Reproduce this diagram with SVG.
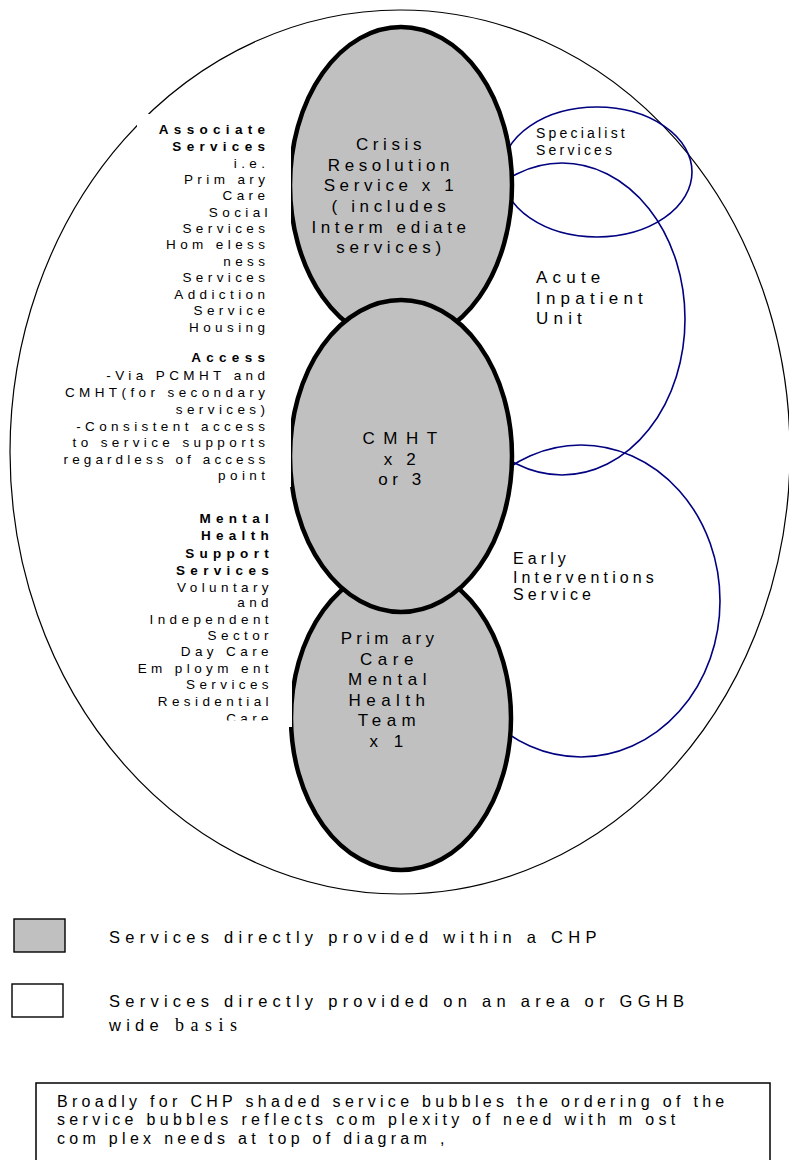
<svg xmlns="http://www.w3.org/2000/svg" width="789" height="1160" viewBox="0 0 789 1160">
<defs>
<style>
.t{font-family:"Liberation Sans",Arial,sans-serif;fill:#000}
.big{font-size:17px;letter-spacing:4.6px;text-anchor:middle}
.pc{letter-spacing:5.5px}
.lab{font-size:17px;letter-spacing:5.2px}
.side{font-size:13.5px;letter-spacing:4.4px;text-anchor:end}
.b{font-weight:bold;letter-spacing:5.3px}
.blue{fill:none;stroke:#000080;stroke-width:1.6}
.svc{fill:#c0c0c0;stroke:#000;stroke-width:4.5}
.wb{fill:#fff;stroke:none}
.leg{font-size:16.5px;letter-spacing:5.25px}
.note{font-size:16px;letter-spacing:4.3px}
</style>
<clipPath id="mclip"><rect x="100" y="500" width="200" height="220.5"/></clipPath>
</defs>
<rect width="789" height="1160" fill="#fff"/>
<g id="outer"><ellipse cx="400" cy="452" rx="390" ry="442" fill="none" stroke="#000" stroke-width="1.2"/></g>
<g id="specialist"><ellipse class="blue" cx="597" cy="172" rx="95" ry="65"/></g>
<g id="acute"><ellipse class="blue" cx="562" cy="319" rx="123" ry="156"/></g>
<g id="early"><ellipse class="blue" cx="581" cy="601" rx="139" ry="156"/></g>
<g id="crisis"><ellipse class="svc" cx="401" cy="185" rx="111" ry="158"/></g>
<g id="pcmht"><ellipse class="svc" cx="401" cy="718" rx="110" ry="152"/></g>
<g id="cmht"><ellipse class="svc" cx="401" cy="456" rx="111" ry="156"/></g>
<g id="connectors"></g>
<g id="associate">
<rect class="wb" x="137" y="114" width="154" height="222"/>
<text class="t side b" x="270.3" y="134">Associate</text>
<text class="t side b" x="270.3" y="151">Services</text>
<text class="t side" x="269.4" y="168">i.e.</text>
<text class="t side" x="269.4" y="184">Prim ary</text>
<text class="t side" x="269.4" y="200">Care</text>
<text class="t side" x="272" y="217">Social</text>
<text class="t side" x="269.4" y="233">Services</text>
<text class="t side" x="269.4" y="249">Hom eless</text>
<text class="t side" x="269.4" y="266">ness</text>
<text class="t side" x="269.4" y="282">Services</text>
<text class="t side" x="269.4" y="299">Addiction</text>
<text class="t side" x="269.4" y="315">Service</text>
<text class="t side" x="269.4" y="332">Housing</text>
</g>
<g id="access">
<rect class="wb" x="60" y="345" width="231" height="142"/>
<text class="t side b" x="270.3" y="362">Access</text>
<text class="t side" x="269.4" y="380">-Via PCMHT and</text>
<text class="t side" x="269.4" y="397">CMHT(for secondary</text>
<text class="t side" x="269.4" y="414">services)</text>
<text class="t side" x="269.4" y="431">-Consistent access</text>
<text class="t side" x="269.4" y="447">to service supports</text>
<text class="t side" x="269.4" y="464" style="letter-spacing:4.1px">regardless of access</text>
<text class="t side" x="269.4" y="480">point</text>
</g>
<g id="mental">
<rect class="wb" x="140" y="505" width="152" height="222"/>
<g clip-path="url(#mclip)">
<text class="t side b" x="274" y="523">Mental</text>
<text class="t side b" x="274" y="540">Health</text>
<text class="t side b" x="274" y="558">Support</text>
<text class="t side b" x="274" y="575">Services</text>
<text class="t side" x="273" y="592">Voluntary</text>
<text class="t side" x="273" y="607">and</text>
<text class="t side" x="273" y="624">Independent</text>
<text class="t side" x="273" y="640">Sector</text>
<text class="t side" x="273" y="656">Day Care</text>
<text class="t side" x="273" y="673">Em ploym ent</text>
<text class="t side" x="273" y="689">Services</text>
<text class="t side" x="273" y="706">Residential</text>
<text class="t side" x="273" y="723">Care</text>
</g>
</g>
<g id="crisis-label">
<text class="t big" x="391" y="150">Crisis</text>
<text class="t big" x="391" y="171">Resolution</text>
<text class="t big" x="391" y="191">Service x 1</text>
<text class="t big" x="391" y="212">( includes</text>
<text class="t big" x="391" y="233">Interm ediate</text>
<text class="t big" x="391" y="253">services)</text>
</g>
<g id="cmht-label">
<text class="t big" x="404" y="444" style="letter-spacing:8.5px">CMHT</text>
<text class="t big" x="402" y="465">x 2</text>
<text class="t big" x="402" y="485">or 3</text>
</g>
<g id="pcmht-label">
<text class="t big" x="389.5" y="644" style="letter-spacing:4.3px">Prim ary</text>
<text class="t big pc" x="389.5" y="665">Care</text>
<text class="t big pc" x="390" y="685">Mental</text>
<text class="t big pc" x="389.5" y="706">Health</text>
<text class="t big pc" x="389.5" y="726">Team</text>
<text class="t big pc" x="389" y="747">x 1</text>
</g>
<g id="specialist-label">
<text class="t" x="536" y="138" style="font-size:14px;letter-spacing:3.2px">Specialist</text>
<text class="t" x="536" y="155" style="font-size:14px;letter-spacing:3.2px">Services</text>
</g>
<g id="acute-label">
<text class="t lab" x="536" y="283">Acute</text>
<text class="t lab" x="536" y="304">Inpatient</text>
<text class="t lab" x="536" y="324">Unit</text>
</g>
<g id="early-label">
<text class="t" x="513" y="564" style="font-size:16px;letter-spacing:4.1px">Early</text>
<text class="t" x="513" y="583" style="font-size:16px;letter-spacing:4.1px">Interventions</text>
<text class="t" x="513" y="600" style="font-size:16px;letter-spacing:4.1px">Service</text>
</g>
<g id="legend-shaded">
<rect x="14" y="919" width="51" height="33" fill="#c0c0c0" stroke="#000" stroke-width="1.4"/>
<text class="t leg" x="109" y="943">Services directly provided within a CHP</text>
</g>
<g id="legend-white">
<rect x="12" y="984" width="51" height="33" fill="#fff" stroke="#000" stroke-width="1.4"/>
<text class="t leg" x="109" y="1007">Services directly provided on an area or GGHB</text>
<text class="t leg" x="109" y="1031">wide <tspan x="175" style="font-family:'Liberation Serif','Times New Roman',serif;font-size:18px;letter-spacing:6.5px">basis</tspan></text>
</g>
<g id="note">
<rect x="36" y="1083" width="734" height="100" fill="#fff" stroke="#000" stroke-width="1.5"/>
<text class="t note" x="57" y="1107">Broadly for CHP shaded service bubbles the ordering of the</text>
<text class="t note" x="57" y="1125">service bubbles reflects com plexity of need with m ost</text>
<text class="t note" x="57" y="1144">com plex needs at top of diagram ,</text>
</g>
</svg>
